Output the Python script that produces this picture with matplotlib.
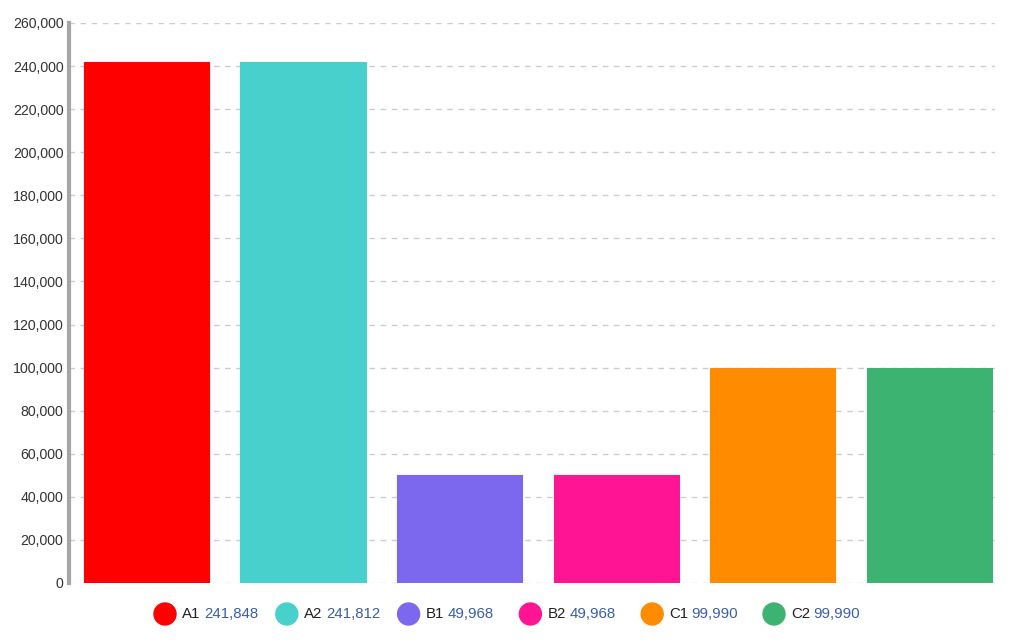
import matplotlib
matplotlib.use("Agg")
import matplotlib.pyplot as plt
from matplotlib.patches import Ellipse
from matplotlib.ticker import FuncFormatter

plt.rcParams['font.family'] = ['Liberation Sans', 'DejaVu Sans']

names = ['A1', 'A2', 'B1', 'B2', 'C1', 'C2']
values = [241848, 241812, 49968, 49968, 99990, 99990]
colors = ['#ff0000', '#48d1cc', '#7b68ee', '#ff1493', '#ff8c00', '#3cb371']
yticks = list(range(0, 260001, 20000))

fig = plt.figure(figsize=(10.24, 6.41), dpi=100)
ax = fig.add_axes([69 / 1024, 58 / 641, (995 - 69) / 1024, 560 / 641])

x = list(range(len(names)))
ax.bar(x, values, width=0.8, color=colors, edgecolor=colors, linewidth=0.8, zorder=3)

ax.set_xlim(-0.495, 5.42)
ax.set_ylim(0, 260000)
ax.set_yticks(yticks)
ax.yaxis.set_major_formatter(FuncFormatter(lambda v, p: f"{int(v):,}"))
ax.set_xticks([])
ax.grid(axis='y', color='#cccccc', linestyle=(0, (4, 4)), linewidth=1, zorder=0)
ax.tick_params(axis='y', length=0, labelsize=10.2, labelcolor='#333333', pad=4)

for s in ['top', 'right', 'bottom']:
    ax.spines[s].set_visible(False)
ax.spines['left'].set_color('#a6a6a6')
ax.spines['left'].set_linewidth(3)

# legend row underneath
for i, (n, v, c) in enumerate(zip(names, values, colors)):
    cx = 165 + 121.8 * i
    cy = 641 - 614
    fig.add_artist(Ellipse((cx / 1024, cy / 641), 22 / 1024, 22 / 641, color=c,
                           transform=fig.transFigure))
    fig.text((cx + 17) / 1024, cy / 641, n, fontsize=10.8, color='#222222', va='center', ha='left')
    fig.text((cx + 39) / 1024, cy / 641, f"{v:,}", fontsize=10.8, color='#3a5ea8', va='center', ha='left')

fig.savefig('out.png', dpi=100)
